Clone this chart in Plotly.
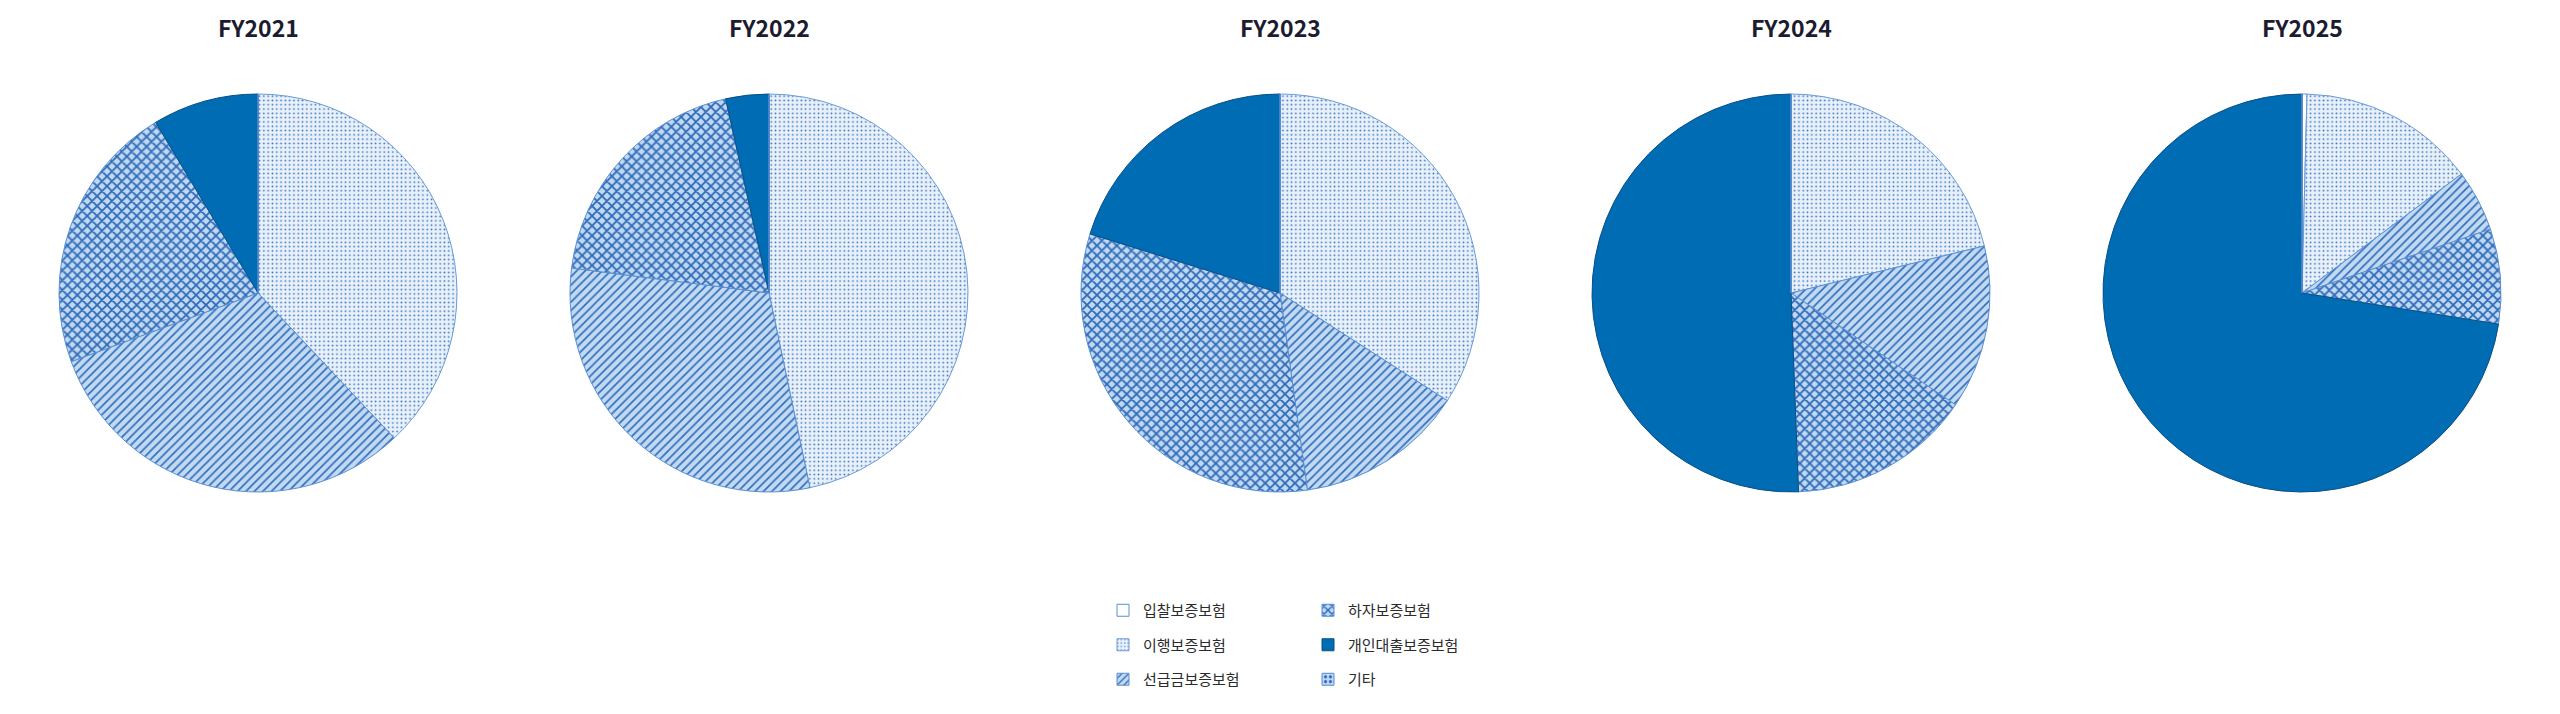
import plotly.graph_objects as go

years = ["FY2021", "FY2022", "FY2023", "FY2024", "FY2025"]
categories = ["입찰보증보험", "이행보증보험", "선급금보증보험", "하자보증보험", "개인대출보증보험", "기타"]

# share of each product (%), in category order
fy2021 = [0.0, 38.0, 31.4, 22.0, 8.6, 0.0]
fy2022 = [0.0, 46.7, 30.3, 19.5, 3.5, 0.0]
fy2023 = [0.0, 34.1, 13.7, 32.0, 20.2, 0.0]
fy2024 = [0.0, 21.2, 13.3, 14.9, 50.6, 0.0]
fy2025 = [0.4, 14.4, 5.0, 7.7, 72.5, 0.0]
shares = [fy2021, fy2022, fy2023, fy2024, fy2025]

# look of each category (fill patterns like the printed report)
shapes = ["", ".", "/", "x", "", "."]
bgcolors = ["#ffffff", "#e8f0fa", "#c2d9f2", "#c0d8f2", "#006cb3", "#c4daf2"]
fgcolors = ["#2c6bbd", "#2f6fc0", "#2f6dbc", "#2e6bb8", "#006cb3", "#2c6bbd"]
sizes = [8, 4.3, 6, 7, 8, 6]
solidity = [0.3, 0.13, 0.27, 0.45, 0.3, 0.35]
edges = ["#5b8fd4", "#6a9bd8", "#5b8fd4", "#5b8fd4", "#0b4f85", "#5b8fd4"]

W, H = 2560, 714
off = 8  # page body margin
cx0, step, cy, r = 258 - off, 511, 293 - off, 199

fig = go.Figure()

for i, (year, vals) in enumerate(zip(years, shares)):
    cx = cx0 + step * i
    fig.add_trace(go.Pie(
        labels=categories,
        values=vals,
        name=year,
        sort=False,
        direction="clockwise",
        rotation=0,
        textinfo="none",
        hovertemplate="%{label}<br>%{value:.1f}%<extra>" + year + "</extra>",
        showlegend=False,
        domain=dict(x=[(cx - r) / W, (cx + r) / W], y=[1 - (cy + r) / H, 1 - (cy - r) / H]),
        marker=dict(
            colors=bgcolors,
            line=dict(color=edges, width=1),
            pattern=dict(shape=shapes, fgcolor=fgcolors, bgcolor=bgcolors,
                         size=sizes, solidity=solidity, fillmode="replace"),
        ),
    ))
    fig.add_annotation(
        x=cx / W, y=1, xref="paper", yref="paper",
        xanchor="center", yanchor="top",
        text="<b>" + year + "</b>", showarrow=False,
        font=dict(family="Noto Sans CJK KR", size=23, color="#1c1c30"),
    )

# legend swatches (two columns of three)
for j, cat in enumerate(categories):
    fig.add_trace(go.Bar(
        x=[None], y=[None], name=cat,
        legend="legend" if j < 3 else "legend2",
        legendgroup=cat,
        marker=dict(
            color=bgcolors[j],
            line=dict(color=edges[j], width=1),
            pattern=dict(shape=shapes[j], fgcolor=fgcolors[j], bgcolor=bgcolors[j],
                         size=sizes[j], solidity=solidity[j], fillmode="replace"),
        ),
        hoverinfo="skip",
    ))

legend_style = dict(
    orientation="v", xanchor="left", yanchor="top",
    traceorder="grouped", tracegroupgap=12,
    font=dict(family="Noto Sans CJK KR", size=15, color="#2b2b2b"),
    bgcolor="rgba(0,0,0,0)",
)

fig.update_layout(
    width=W, height=H,
    margin=dict(l=0, r=0, t=0, b=0),
    paper_bgcolor="white",
    plot_bgcolor="white",
    font=dict(family="Noto Sans CJK KR"),
    xaxis=dict(visible=False),
    yaxis=dict(visible=False),
    legend=dict(x=1095 / W, y=1 - 586 / H, **legend_style),
    legend2=dict(x=1300 / W, y=1 - 586 / H, **legend_style),
)

fig.write_html("out.html")
